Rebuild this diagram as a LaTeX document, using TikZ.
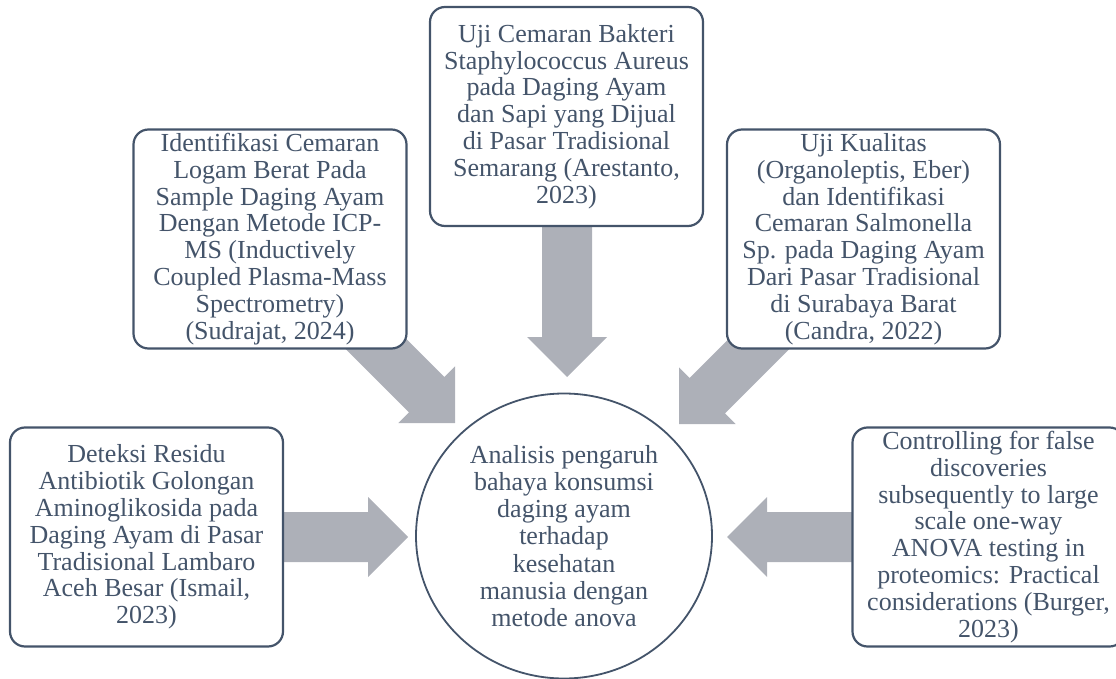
\documentclass[tikz,border=0pt]{standalone}
\usepackage{fontspec}
\setmainfont{Liberation Serif}
\usetikzlibrary{calc,shapes.geometric}
\definecolor{slate}{HTML}{44546A}
\definecolor{arrowgray}{HTML}{ADB0B8}
\tikzset{
  refbox/.style={draw=slate, line width=2.2pt, rounded corners=15pt, fill=white,
    text=slate, align=center, inner sep=0pt, minimum width=273pt, minimum height=219pt,
    font=\fontsize{26}{26.8}\selectfont},
  hub/.style={ellipse, draw=slate, line width=1.8pt, fill=white, text=slate, align=center,
    inner sep=0pt, minimum width=296pt, minimum height=285pt,
    font=\fontsize{26}{27.2}\selectfont},
  blockfill/.style={fill=arrowgray, draw=none}
}
\newcommand\blockarrow[2]{%
  \coordinate (#2-h) at ($(#2)!40pt!(#1)$);
  \fill[blockfill] ($(#1)!25pt!90:(#2)$) -- ($(#2-h)!25pt!90:(#2)$) -- ($(#2-h)!40pt!90:(#2)$)
    -- (#2) -- ($(#2-h)!40pt!-90:(#2)$) -- ($(#2-h)!25pt!-90:(#2)$) -- ($(#1)!25pt!-90:(#2)$) -- cycle;
}
\begin{document}
\begin{tikzpicture}[x=1pt,y=-1pt]
\useasboundingbox (0,0) rectangle (1116,679);
% anchor coordinates for boxes
\coordinate (ctop) at (566.5,116.5);
\coordinate (ctl) at (270,239);
\coordinate (ctr) at (863.5,239);
\coordinate (cl) at (146.5,537);
\coordinate (cr) at (988.5,537);
\coordinate (chub) at (564,536);
% arrow tips and start points
\coordinate (tipT) at (567,377);
\coordinate (tipL) at (408,537);
\coordinate (tipR) at (727,537);
\coordinate (tipTL) at (455,423);
\coordinate (tipTR) at (679,424);
\coordinate (stTL) at (360,328);
\coordinate (stTR) at (777,326);
\coordinate (stT) at (567,220);
\coordinate (stL) at (275,537);
\coordinate (stR) at (860,537);
% block arrows
\blockarrow{stT}{tipT}
\blockarrow{stL}{tipL}
\blockarrow{stR}{tipR}
\blockarrow{stTL}{tipTL}
\blockarrow{stTR}{tipTR}
% boxes
\node[refbox] (top) at (ctop) {Uji Cemaran Bakteri\\Staphylococcus Aureus\\pada Daging Ayam\\dan Sapi yang Dijual\\di Pasar Tradisional\\Semarang (Arestanto,\\2023)};
\node[refbox] (tl) at (ctl) {Identifikasi Cemaran\\Logam Berat Pada\\Sample Daging Ayam\\Dengan Metode ICP-\\MS (Inductively\\Coupled Plasma-Mass\\Spectrometry)\\(Sudrajat, 2024)};
\node[refbox] (tr) at (ctr) {Uji Kualitas\\(Organoleptis, Eber)\\dan Identifikasi\\Cemaran Salmonella\\Sp. pada Daging Ayam\\Dari Pasar Tradisional\\di Surabaya Barat\\(Candra, 2022)};
\node[refbox] (left) at (cl) {Deteksi Residu\\Antibiotik Golongan\\Aminoglikosida pada\\Daging Ayam di Pasar\\Tradisional Lambaro\\Aceh Besar (Ismail,\\2023)};
\node[refbox, minimum width=272pt] (right) at (cr) {Controlling for false\\discoveries\\subsequently to large\\scale one-way\\ANOVA testing in\\proteomics: Practical\\considerations (Burger,\\2023)};
\node[hub] (hub) at (chub) {Analisis pengaruh\\bahaya konsumsi\\daging ayam\\terhadap\\kesehatan\\manusia dengan\\metode anova};
\end{tikzpicture}
\end{document}
